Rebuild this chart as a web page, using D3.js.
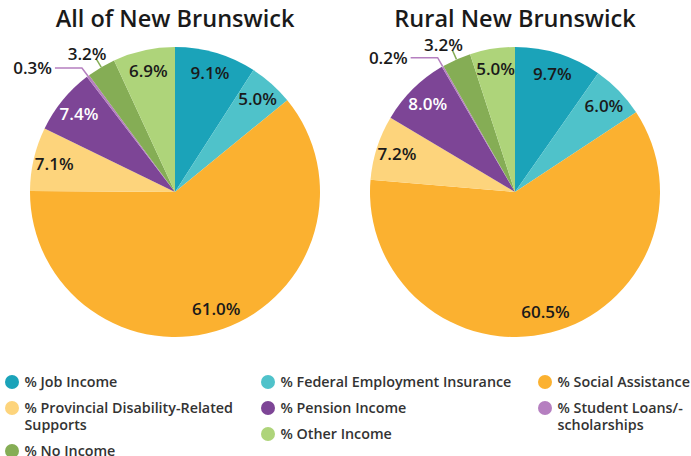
<!DOCTYPE html>
<html>
<head>
<meta charset="utf-8">
<script src="https://cdn.jsdelivr.net/npm/d3@7"></script>
<style>
  html, body { margin: 0; padding: 0; background: #fff; }
  svg { display: block; font-family: "Open Sans", sans-serif; }
</style>
</head>
<body>
<svg id="chart" width="691" height="456"></svg>
<script>
// Income source categories, in slice order (clockwise from 12 o'clock)
const categories = [
  "% Job Income",
  "% Federal Employment Insurance",
  "% Social Assistance",
  "% Provincial Disability-Related Supports",
  "% Pension Income",
  "% Student Loans/-scholarships",
  "% No Income",
  "% Other Income"
];
const colors = ["#1ba3b9", "#4fc2ca", "#fbb130", "#fdd47c", "#7d4596", "#b57fc0", "#85ad55", "#aed47a"];

const allNB = [9.1, 5.0, 61.0, 7.1, 7.4, 0.3, 3.2, 6.9];
const ruralNB = [9.7, 6.0, 60.5, 7.2, 8.0, 0.2, 3.2, 5.0];

const titles = ["All of New Brunswick", "Rural New Brunswick"];

// Legend text, wrapped the way it is laid out
const legendLines = [
  ["% Job Income"],
  ["% Federal Employment Insurance"],
  ["% Social Assistance"],
  ["% Provincial Disability-Related", "Supports"],
  ["% Pension Income"],
  ["% Student Loans/-", "scholarships"],
  ["% No Income"],
  ["% Other Income"]
];

const svg = d3.select("#chart");
const R = 145;
const labelR = 124;
const labelSize = 17;
const color = d3.scaleOrdinal().domain(categories).range(colors);

const pie = d3.pie().sort(null).value(d => d.value);
const arc = d3.arc().innerRadius(0).outerRadius(R);
const labelArc = d3.arc().innerRadius(labelR).outerRadius(labelR);

// Which slices carry their label outside with a leader line
const outsideElbow = new Set(["% Student Loans/-scholarships"]);
const outsideShort = new Set(["% No Income"]);
const whiteLabel = new Set(["% Pension Income"]);

function polar(angle, r) {
  return [r * Math.sin(angle), -r * Math.cos(angle)];
}

function drawPie(values, cx, title) {
  const data = categories.map((c, i) => ({ cat: c, value: values[i] }));
  const g = svg.append("g").attr("transform", `translate(${cx},192)`);

  svg.append("text")
    .attr("x", cx).attr("y", 27)
    .attr("text-anchor", "middle")
    .attr("font-size", 23.5).attr("font-weight", 600)
    .attr("fill", "#1a1a1a")
    .text(title);

  const arcs = pie(data);

  g.selectAll("path.slice")
    .data(arcs)
    .join("path")
    .attr("class", "slice")
    .attr("d", arc)
    .attr("fill", d => color(d.data.cat));

  arcs.forEach(d => {
    const mid = (d.startAngle + d.endAngle) / 2;
    const txt = d.data.value.toFixed(1) + "%";
    if (outsideElbow.has(d.data.cat)) {
      const p0 = polar(mid, R);
      const p1 = polar(mid, R + 10);
      const p2 = [p1[0] - 27, p1[1]];
      g.append("polyline")
        .attr("points", [p0, p1, p2].map(p => p.join(",")).join(" "))
        .attr("fill", "none")
        .attr("stroke", color(d.data.cat))
        .attr("stroke-width", 1.5);
      g.append("text")
        .attr("x", p2[0] - 3).attr("y", p2[1])
        .attr("dy", "0.35em")
        .attr("text-anchor", "end")
        .attr("font-size", labelSize).attr("font-weight", 600)
        .attr("fill", "#1a1a1a")
        .text(txt);
    } else if (outsideShort.has(d.data.cat)) {
      const p0 = polar(mid, R);
      const p1 = polar(mid, R + 10);
      g.append("line")
        .attr("x1", p0[0]).attr("y1", p0[1])
        .attr("x2", p1[0]).attr("y2", p1[1])
        .attr("stroke", color(d.data.cat))
        .attr("stroke-width", 1.5);
      g.append("text")
        .attr("x", p1[0] - 9).attr("y", p1[1] + 1)
        .attr("text-anchor", "middle")
        .attr("font-size", labelSize).attr("font-weight", 600)
        .attr("fill", "#1a1a1a")
        .text(txt);
    } else {
      const c = labelArc.centroid(d);
      g.append("text")
        .attr("x", c[0]).attr("y", c[1])
        .attr("dy", "0.35em")
        .attr("text-anchor", "middle")
        .attr("font-size", labelSize).attr("font-weight", 600)
        .attr("fill", whiteLabel.has(d.data.cat) ? "#ffffff" : "#1a1a1a")
        .text(txt);
    }
  });
}

drawPie(allNB, 175, titles[0]);
drawPie(ruralNB, 515, titles[1]);

// Legend: three columns, each column stacks its own items
const colX = [12, 268, 545];
const lineH = 17;
const itemGap = 26;
const colY = [382, 382, 382];
const legend = svg.append("g");
categories.forEach((c, i) => {
  const col = i % 3;
  const y = colY[col];
  const item = legend.append("g").attr("transform", `translate(${colX[col]},${y})`);
  item.append("circle").attr("r", 7).attr("fill", color(c));
  const t = item.append("text")
    .attr("x", 12.5).attr("y", 0)
    .attr("font-size", 14.3).attr("font-weight", 600)
    .attr("fill", "#333333");
  legendLines[i].forEach((ln, k) => {
    t.append("tspan").attr("x", 12.5).attr("dy", k === 0 ? "0.35em" : lineH).text(ln);
  });
  colY[col] = y + itemGap + (legendLines[i].length - 1) * lineH;
});
</script>
</body>
</html>
